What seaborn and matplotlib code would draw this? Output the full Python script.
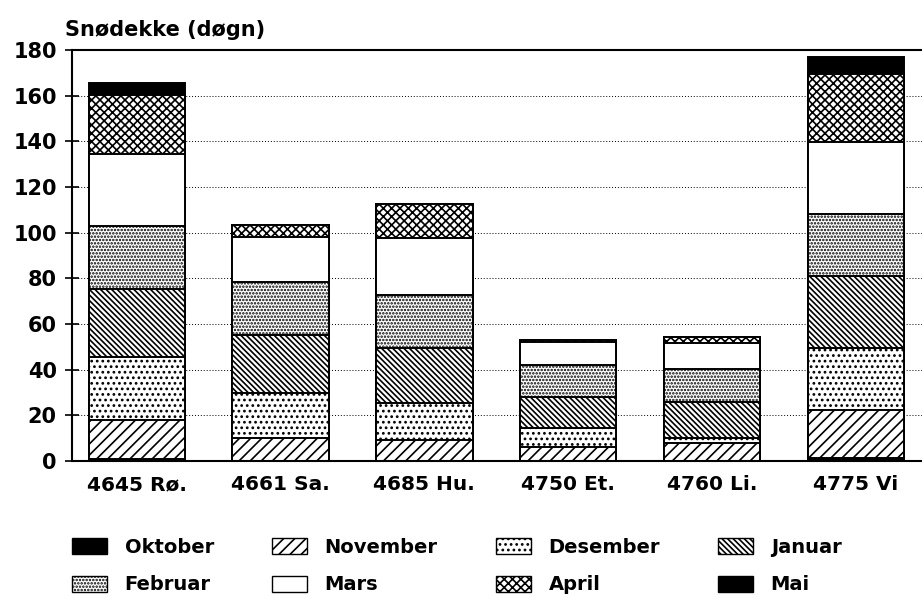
import numpy as np
import pandas as pd
import matplotlib
matplotlib.use("Agg")
import matplotlib.pyplot as plt
import seaborn as sns
from matplotlib.patches import Patch

# ---- data (days of snow cover per month) ----
stations = ["4645 Rø.", "4661 Sa.", "4685 Hu.", "4750 Et.", "4760 Li.", "4775 Vi"]
oktober = [1.0, 0.0, 0.0, 0.0, 0.0, 1.5]
november = [17.0, 10.0, 9.0, 6.0, 8.0, 21.0]
desember = [27.5, 20.0, 16.5, 8.5, 2.0, 27.0]
januar = [30.0, 25.0, 24.0, 13.5, 16.0, 31.5]
februar = [27.5, 23.5, 23.0, 14.0, 14.5, 27.0]
mars = [31.5, 19.5, 25.0, 10.0, 11.0, 31.5]
april = [26.0, 5.5, 15.0, 1.0, 3.0, 30.0]
mai = [5.0, 0.0, 0.0, 0.0, 0.0, 7.5]
months = ["Oktober", "November", "Desember", "Januar", "Februar", "Mars", "April", "Mai"]
yticks = [0, 20, 40, 60, 80, 100, 120, 140, 160, 180]

series = [oktober, november, desember, januar, februar, mars, april, mai]
styles = {
    "Oktober": dict(color="black", hatch=None),
    "November": dict(color="white", hatch="///"),
    "Desember": dict(color="white", hatch="..."),
    "Januar": dict(color="white", hatch="\\\\\\\\\\\\"),
    "Februar": dict(color="white", hatch="....."),
    "Mars": dict(color="white", hatch=None),
    "April": dict(color="white", hatch="xxxx"),
    "Mai": dict(color="black", hatch=None),
}

sns.set_style("ticks")
plt.rcParams["font.family"] = ["DejaVu Sans"]
plt.rcParams["font.weight"] = "bold"
plt.rcParams["text.color"] = "black"
plt.rcParams["hatch.linewidth"] = 1.2
plt.rcParams["hatch.color"] = "black"

fig = plt.figure(figsize=(9.22, 6.02), dpi=100)
ax = fig.add_axes([72 / 922, 1 - 461 / 602, 1 - 72 / 922, (461 - 50) / 602])

cum = np.cumsum(np.array(series), axis=0)
for i in reversed(range(len(months))):
    st = styles[months[i]]
    df = pd.DataFrame({"station": stations, "value": cum[i]})
    sns.barplot(data=df, x="station", y="value", color=st["color"], saturation=1,
                hatch=st["hatch"], edgecolor="black", linewidth=1.4, width=0.67,
                ax=ax, errorbar=None)

ax.set_xlim(-0.45, 5.46)
ax.set_ylim(0, 180)
ax.set_yticks(yticks)
ax.set_xlabel("")
ax.set_ylabel("")
ax.yaxis.grid(True, linestyle=(0, (1, 2)), color="black", linewidth=0.7)
ax.set_axisbelow(True)
ax.spines["right"].set_visible(False)
for s in ["left", "bottom", "top"]:
    ax.spines[s].set_linewidth(1.5)
    ax.spines[s].set_color("black")
ax.tick_params(axis="y", direction="inout", length=10, width=1.2, pad=6,
               labelsize=15, colors="black")
ax.tick_params(axis="x", length=0, pad=10, labelsize=14.5, colors="black")
for lbl in ax.get_xticklabels() + ax.get_yticklabels():
    lbl.set_fontweight("bold")

fig.text(65 / 922, 1 - 30 / 602, "Snødekke (døgn)", ha="left", va="center",
         fontsize=15, fontweight="bold", color="black")

handles = []
for m in months:
    st = styles[m]
    handles.append(Patch(facecolor=st["color"], hatch=st["hatch"], edgecolor="black",
                         linewidth=1.0, label=m))
order = [0, 4, 1, 5, 2, 6, 3, 7]
leg = fig.legend([handles[k] for k in order], [months[k] for k in order],
                 ncol=4, loc="upper left", bbox_to_anchor=(72 / 922, 1 - 538 / 602),
                 frameon=False, borderpad=0, borderaxespad=0, fontsize=14,
                 handlelength=1.8, handleheight=0.9, handletextpad=0.9,
                 columnspacing=3.0, labelspacing=0.95)
for t in leg.get_texts():
    t.set_fontweight("bold")
    t.set_color("black")

fig.savefig("out.png", dpi=100)
